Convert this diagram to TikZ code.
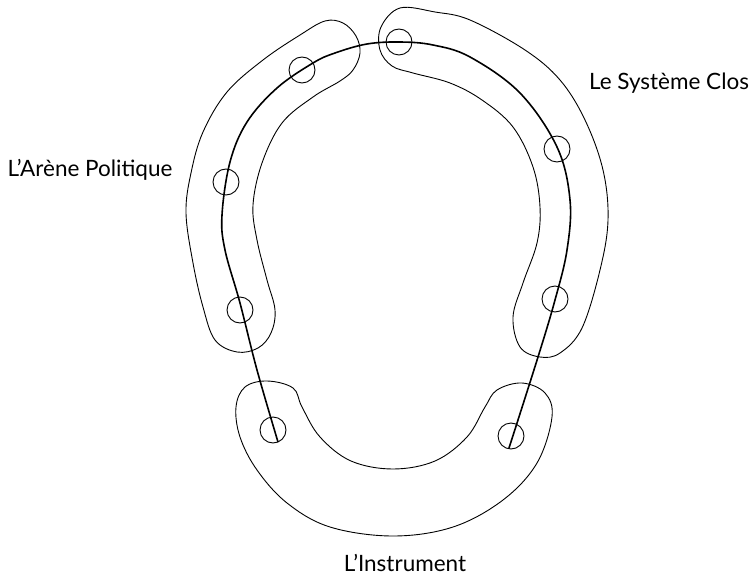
\documentclass[tikz,border=0pt]{standalone}
\usepackage{fontspec}
\setmainfont{Lato}
\begin{document}
\begin{tikzpicture}[x=1pt,y=-1pt,
  band/.style={draw=black,line width=0.9pt},
  spine/.style={draw=black,line width=1.6pt},
  ring/.style={circle,draw=black,line width=0.9pt,minimum size=26pt,inner sep=0pt},
  lbl/.style={font=\fontsize{22.5}{26}\selectfont,anchor=base,inner sep=0pt}]
\useasboundingbox (0,0) rectangle (751,577);
% bands
\draw[band] plot[smooth cycle,tension=0.6] coordinates {
  (186,213) (191,173) (203,132) (227,92) (263,60) (300,35) (325,21)
  (343,23) (356,36) (360,53) (353,70) (340,81)
  (313,97) (282,123) (262,163) (253,205) (257,240) (267,280) (275,310) (271,333) (258,348)
  (237,352) (215,340) (203,307) (193,263)};
\draw[band] plot[smooth cycle,tension=0.6] coordinates {
  (400,8) (435,12) (470,20) (525,50) (560,80) (585,120) (603,170) (608,220)
  (600,270) (582,328) (560,353) (540,357) (520,347) (513,317) (523,283)
  (537,243) (540,207) (533,167) (513,127) (482,100) (450,83) (413,73)
  (392,66) (380,50) (381,27)};
\draw[band] plot[smooth cycle,tension=0.6] coordinates {
  (267,381) (245,387) (236,407) (240,437) (257,470) (287,503) (330,527)
  (393,536) (453,527) (503,500) (537,463) (552,417) (545,393) (522,383)
  (497,390) (485,407) (467,437) (435,461) (393,469) (351,461) (320,437)
  (302,407) (293,388)};
% rings
\node[ring] (c1) at (302,70) {};
\node[ring] (c2) at (399,42) {};
\node[ring] (c3) at (557,149) {};
\node[ring] (c4) at (226,182) {};
\node[ring] (c5) at (240,310) {};
\node[ring] (c6) at (555,299) {};
\node[ring] (c7) at (273,430) {};
\node[ring] (c8) at (511,436) {};
% spine
\draw[spine] plot[smooth,tension=0.6] coordinates {
  (278,442) (257,370) (240,303) (225,250) (222,215) (230,162) (247,122)
  (277,88) (313,63) (335,53) (367,44) (400,42) (433,45) (470,57) (520,93)
  (557,147) (570,200) (567,250) (555,300) (538,357) (509,448)};
% labels
\node[lbl] (t1) at (90,177) {L’Arène Politique};
\node[lbl] (t2) at (669,90) {Le Système Clos};
\node[lbl] (t3) at (405,571) {L’Instrument};
\end{tikzpicture}
\end{document}
